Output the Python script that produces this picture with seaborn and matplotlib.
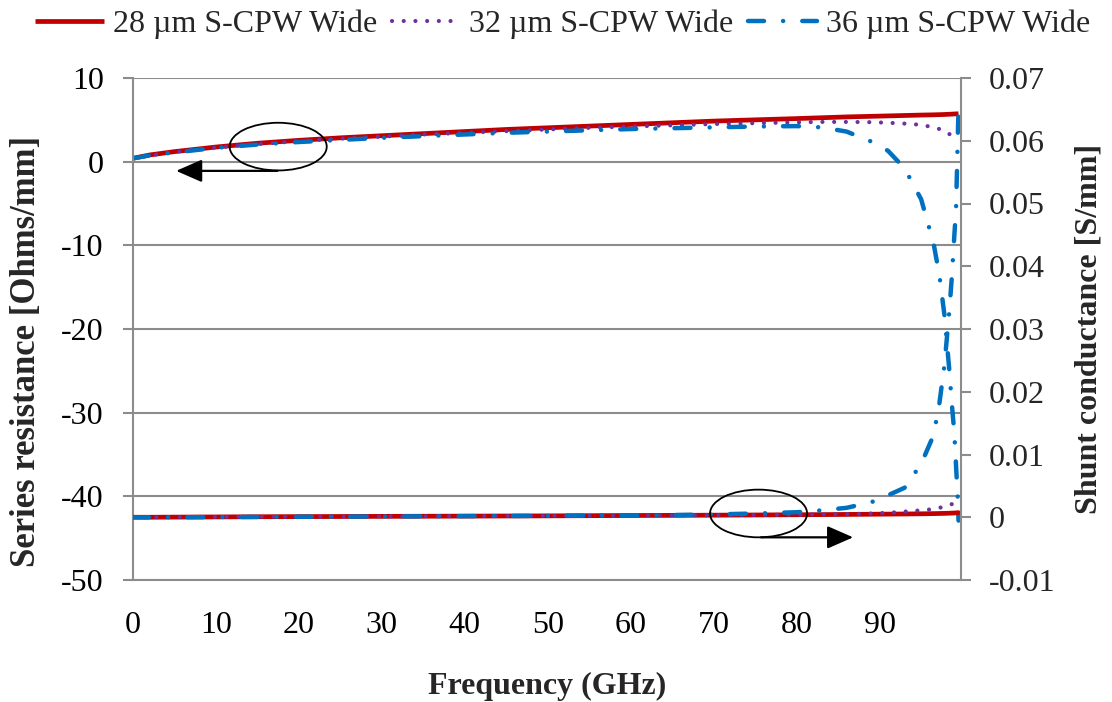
import matplotlib
matplotlib.use('Agg')
import matplotlib.pyplot as plt
import seaborn as sns
import pandas as pd
from matplotlib.patches import Ellipse

# ---- data ----
freq = [0, 2, 5, 10, 15, 20, 25, 30, 35, 40, 45, 50, 55, 60, 65, 70, 75, 80,
        83, 86, 89, 91, 93, 95, 96.5, 97.2, 97.8, 98.4, 98.7, 99.0, 99.2, 99.4, 99.5]

res_28 = [0.4, 0.8, 1.2, 1.75, 2.2, 2.55, 2.85, 3.1, 3.35, 3.6, 3.85, 4.05, 4.25, 4.45, 4.65, 4.85, 5.0, 5.15,
          5.25, 5.35, 5.42, 5.47, 5.52, 5.57, 5.6, 5.62, 5.64, 5.67, 5.68, 5.7, 5.71, 5.72, 5.73]
res_32 = [0.4, 0.75, 1.15, 1.7, 2.1, 2.45, 2.75, 3.0, 3.25, 3.45, 3.65, 3.85, 4.05, 4.2, 4.35, 4.5, 4.6, 4.7,
          4.75, 4.75, 4.72, 4.65, 4.55, 4.4, 4.1, 3.9, 3.6, 3.3, 3.1, 2.85, 2.7, 2.55, 2.45]
res_36 = [0.4, 0.75, 1.1, 1.65, 2.05, 2.35, 2.6, 2.85, 3.05, 3.25, 3.45, 3.6, 3.75, 3.9, 4.0, 4.1, 4.2, 4.25,
          4.1, 3.6, 2.4, 1.3, -0.8, -4.5, -9.8, -13.6, -18.3, -25.0, -29.0, -32.5, -36.3, -40.1, -42.9]

cond_28 = [0.0, 0.0, 0.00002, 0.00005, 0.00008, 0.0001, 0.00012, 0.00014, 0.00016, 0.00018, 0.0002, 0.00022,
           0.00025, 0.00028, 0.0003, 0.00033, 0.00036, 0.0004,
           0.00042, 0.00045, 0.00048, 0.0005, 0.00052, 0.00055, 0.00058, 0.0006, 0.00062, 0.00064, 0.00066,
           0.00068, 0.0007, 0.00072, 0.00073]
cond_32 = [0.0, 0.0, 0.00002, 0.00005, 0.00008, 0.0001, 0.00012, 0.00014, 0.00016, 0.00018, 0.0002, 0.00022,
           0.00025, 0.00028, 0.0003, 0.00033, 0.00037, 0.00042,
           0.00045, 0.0005, 0.0006, 0.0007, 0.0009, 0.0011, 0.0013, 0.0015, 0.0017, 0.0019, 0.0021,
           0.0023, 0.0025, 0.0028, 0.0032]
cond_36 = [0.0, 0.0, 0.0, 0.00002, 0.00005, 0.00008, 0.0001, 0.00012, 0.00015, 0.00018, 0.0002, 0.00023,
           0.00027, 0.0003, 0.00035, 0.00045, 0.0006, 0.0008,
           0.0011, 0.0015, 0.0024, 0.0035, 0.0047, 0.0085, 0.0131, 0.0182, 0.0242, 0.033, 0.0384,
           0.045, 0.049, 0.060, 0.065]

labels = ["28 µm S-CPW Wide", "32 µm S-CPW Wide", "36 µm S-CPW Wide"]
res_ticks = [-50, -40, -30, -20, -10, 0, 10]
cond_ticks = [-0.01, 0.0, 0.01, 0.02, 0.03, 0.04, 0.05, 0.06, 0.07]
cond_tick_labels = ["-0.01", "0", "0.01", "0.02", "0.03", "0.04", "0.05", "0.06", "0.07"]
x_ticks = [0, 10, 20, 30, 40, 50, 60, 70, 80, 90]
x_minor = [5, 15, 25, 35, 45, 55, 65, 75, 85, 95]

df = pd.DataFrame({"freq": freq,
                   "r28": res_28, "r32": res_32, "r36": res_36,
                   "g28": cond_28, "g32": cond_32, "g36": cond_36})

# ---- style ----
sns.set_style("white")
plt.rcParams['font.family'] = ['Liberation Serif', 'DejaVu Serif']

RED = "#C00000"
PURPLE = "#7030A0"
BLUE = "#0070C0"
GRAY = "#8C8C8C"

styles = [
    dict(color=RED, lw=3.4, ls='-', cap='butt'),
    dict(color=PURPLE, lw=3.0, ls=(0, (0.01, 2.8)), cap='round'),
    dict(color=BLUE, lw=3.2, ls=(0, (3.6, 4.3, 0.01, 4.3)), cap='round'),
]

fig = plt.figure(figsize=(11.12, 7.02), dpi=100)
ax = fig.add_axes([133 / 1112, 1 - 580 / 702, (961 - 133) / 1112, (580 - 78) / 702])
ax2 = ax.twinx()

for col, st, lab in zip(["r28", "r32", "r36"], styles, labels):
    sns.lineplot(data=df, x="freq", y=col, ax=ax, color=st['color'], lw=st['lw'],
                 linestyle=st['ls'], sort=False, estimator=None, label=lab, legend=False)
    ax.lines[-1].set_dash_capstyle(st['cap'])
    ax.lines[-1].set_solid_capstyle('butt')

for col, st in zip(["g28", "g32", "g36"], styles):
    sns.lineplot(data=df, x="freq", y=col, ax=ax2, color=st['color'], lw=st['lw'],
                 linestyle=st['ls'], sort=False, estimator=None, legend=False)
    ax2.lines[-1].set_dash_capstyle(st['cap'])

# axes limits / ticks
ax.set_xlim(0, 99.8)
ax.set_ylim(-50, 10)
ax2.set_ylim(-0.01, 0.07)
ax.set_yticks(res_ticks)
ax.set_yticklabels([str(t) for t in res_ticks])
ax2.set_yticks(cond_ticks)
ax2.set_yticklabels(cond_tick_labels)
ax.set_xticks(x_ticks)
ax.set_xticks(x_minor, minor=True)
ax.set_xticklabels([str(t) for t in x_ticks])

ax.yaxis.grid(True, color=GRAY, lw=1.5)
ax.set_axisbelow(True)

for a in (ax, ax2):
    for s in a.spines.values():
        s.set_color(GRAY)
        s.set_linewidth(1.5)
ax.spines['top'].set_visible(False)
ax.spines['right'].set_visible(False)
ax2.spines['top'].set_visible(False)
ax2.spines['left'].set_visible(False)
ax2.spines['bottom'].set_visible(False)

ax.tick_params(axis='both', which='both', direction='out', length=7, width=1.5, color=GRAY,
               labelsize=23, labelcolor='black')
ax.tick_params(axis='x', pad=15)
ax.tick_params(axis='y', pad=14)
ax2.tick_params(axis='y', direction='out', length=7, width=1.5, color=GRAY, labelsize=23, pad=13)

ax.set_xlabel("Frequency (GHz)", fontsize=23, fontweight='bold', labelpad=23)
ax.set_ylabel("Series resistance [Ohms/mm]", fontsize=25, fontweight='bold',
              va='center', ha='center')
ax.yaxis.set_label_coords(-0.129, 0.456)
ax2.set_ylabel("Shunt conductance [S/mm]", fontsize=23, fontweight='bold', labelpad=14)

# annotations (ellipses + arrows), positioned in left-axis data coordinates
ell1 = Ellipse((17.5, 1.8), 11.7, 5.7, fill=False, ec='black', lw=1.3, transform=ax.transData, zorder=10)
ell2 = Ellipse((75.4, -42.05), 11.7, 5.7, fill=False, ec='black', lw=1.3, transform=ax.transData, zorder=10)
ax2.add_patch(ell1)
ax2.add_patch(ell2)
ax2.annotate("", xy=(5.2, -1.1), xytext=(17.4, -1.1), xycoords=ax.transData, textcoords=ax.transData,
             arrowprops=dict(arrowstyle='-|>,head_length=0.8,head_width=0.35', color='black', lw=1.6,
                             shrinkA=0, shrinkB=0, mutation_scale=20), zorder=10)
ax2.annotate("", xy=(86.8, -44.9), xytext=(75.7, -44.9), xycoords=ax.transData, textcoords=ax.transData,
             arrowprops=dict(arrowstyle='-|>,head_length=0.8,head_width=0.35', color='black', lw=1.6,
                             shrinkA=0, shrinkB=0, mutation_scale=20), zorder=10)

# legend
handles = ax.lines[:3]
fig.legend(handles, labels, loc='upper center', bbox_to_anchor=(0.506, 1.014), ncol=3, frameon=False,
           fontsize=23, handlelength=2.15, handletextpad=0.28, columnspacing=0.45, borderaxespad=0.2)

fig.savefig("out.png", dpi=100)
